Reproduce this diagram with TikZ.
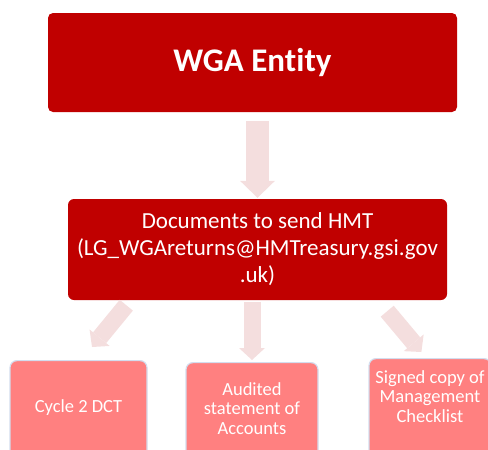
\documentclass[tikz,border=0pt]{standalone}
\usepackage{fontspec}
\setmainfont{Carlito}[Ligatures=NoCommon]
\usetikzlibrary{arrows.meta,calc}
\definecolor{wgared}{HTML}{C00000}
\definecolor{leaffill}{HTML}{FF8080}
\definecolor{leafedge}{HTML}{D3DDEE}
\definecolor{flow}{HTML}{F4DEDE}
\tikzset{
  head/.style={fill=wgared, rounded corners=5pt, text=white, minimum width=409pt, minimum height=99pt, font=\fontsize{33}{40}\selectfont\bfseries},
  hub/.style={fill=wgared, rounded corners=6pt, text=white, align=center, inner sep=0pt, minimum width=379pt, minimum height=101pt, font=\fontsize{23}{27}\selectfont},
  leaf/.style={fill=leaffill, draw=leafedge, line width=1.2pt, rounded corners=7pt, text=white, align=center, anchor=north, inner xsep=0pt, text depth=60pt, font=\fontsize{18.5}{19.5}\selectfont},
  bigflow/.style={draw=flow, line width=23pt, -{Triangle[width=35pt,length=17pt,line width=0pt]}},
  flowline/.style={draw=flow, line width=17pt, -{Triangle[width=26pt,length=12pt,line width=0pt]}},
}

\begin{document}
\begin{tikzpicture}[x=1pt,y=-1pt]
  \useasboundingbox (0,0) rectangle (488,450);
  \clip (0,0) rectangle (488,450);

  \node[head] (entity) at (252.5,62.5) {WGA Entity};
  \node[hub] (hmt) at (257.5,249.5) {Documents to send HMT\\(LG\_WGAreturns@HMTreasury.gsi.gov\\.uk)};

  % the three returns, cut off by the page edge
  \node[leaf, minimum width=137pt, inner ysep=39pt] (dct) at (78.5,360) {Cycle 2 DCT};
  \node[leaf, minimum width=132pt, inner ysep=20pt] (accts) at (252,362) {Audited\\statement of\\Accounts};
  \node[leaf, minimum width=122pt, inner ysep=12pt] (check) at (430,358) {Signed copy of\\Management\\Checklist};

  \coordinate (e0) at ([yshift=-9pt]entity.south -| hmt.north);
  \draw[bigflow] (e0) -- ([yshift=1pt]hmt.north);

  \coordinate (l0) at ([shift={(58.5pt,-5pt)}]hmt.south west);
  \coordinate (m0) at ([yshift=-2pt]hmt.south -| accts.north);
  \coordinate (r0) at ([shift={(-60pt,-11pt)}]hmt.south east);
  \draw[flowline] (l0) -- ([shift={(13.5pt,13pt)}]dct.north);
  \draw[flowline] (m0) -- ([yshift=2pt]accts.north);
  \draw[flowline] (r0) -- ([shift={(53pt,6pt)}]check.north west);
\end{tikzpicture}
\end{document}
